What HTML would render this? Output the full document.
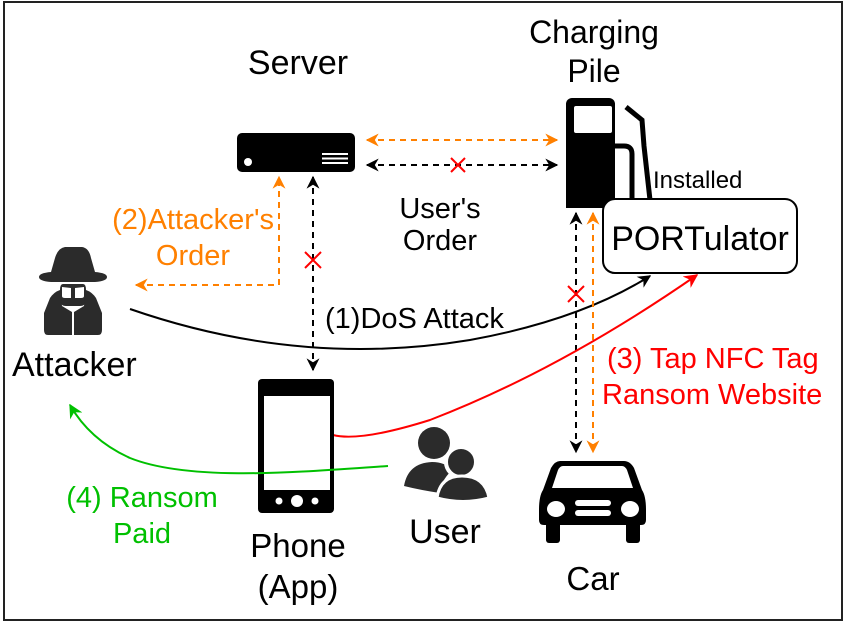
<!DOCTYPE html>
<html><head><meta charset="utf-8"><style>
html,body{margin:0;padding:0;background:#fff}
svg{display:block}
text{font-family:"Liberation Sans",Arial,sans-serif}
</style></head><body>
<svg width="846" height="627" viewBox="0 0 846 627" xmlns="http://www.w3.org/2000/svg">
<defs>
<marker id="ab" viewBox="0 0 10 10" refX="9" refY="5" markerWidth="13" markerHeight="13" orient="auto-start-reverse" markerUnits="userSpaceOnUse"><path d="M0,0 L10,5 L0,10 L3,5z" fill="#000"/></marker>
<marker id="ao" viewBox="0 0 10 10" refX="9" refY="5" markerWidth="13" markerHeight="13" orient="auto-start-reverse" markerUnits="userSpaceOnUse"><path d="M0,0 L10,5 L0,10 L3,5z" fill="#ff8000"/></marker>
<marker id="ar" viewBox="0 0 10 10" refX="9" refY="5" markerWidth="14" markerHeight="14" orient="auto" markerUnits="userSpaceOnUse"><path d="M0,0 L10,5 L0,10 L3,5z" fill="#ff0000"/></marker>
<marker id="ag" viewBox="0 0 10 10" refX="9" refY="5" markerWidth="14" markerHeight="14" orient="auto" markerUnits="userSpaceOnUse"><path d="M0,0 L10,5 L0,10 L3,5z" fill="#00c000"/></marker>
</defs>
<rect x="4" y="2" width="838" height="618" fill="#fff" stroke="#222" stroke-width="2"/>

<text x="298" y="74" font-size="34" text-anchor="middle">Server</text>
<rect x="237" y="133" width="118" height="39" rx="5" fill="#000"/>
<circle cx="248" cy="162" r="4" fill="#fff"/>
<rect x="322" y="153" width="26" height="2" fill="#fff"/>
<rect x="322" y="157.5" width="26" height="2" fill="#fff"/>
<rect x="322" y="162" width="26" height="2" fill="#fff"/>

<text x="594" y="43" font-size="32" text-anchor="middle">Charging</text>
<text x="594" y="82" font-size="32" text-anchor="middle">Pile</text>
<rect x="566" y="98" width="49" height="110" rx="6" fill="#000"/>
<rect x="566" y="190" width="49" height="18" fill="#000"/>
<rect x="574" y="106" width="38" height="27" rx="2" fill="#fff"/>
<path d="M614,146 L624,146 Q632,146 632,154 L632,200" fill="none" stroke="#000" stroke-width="5"/>
<path d="M626,107 L642,120 L644,146 L650,200" fill="none" stroke="#000" stroke-width="5"/>
<text x="653" y="188" font-size="24">Installed</text>
<rect x="603" y="199" width="194" height="74" rx="12" fill="#fff" stroke="#000" stroke-width="2"/>
<text x="700" y="250" font-size="34" text-anchor="middle">PORTulator</text>

<line x1="367" y1="140" x2="557" y2="140" stroke="#ff8000" stroke-width="2" stroke-dasharray="6,5" marker-start="url(#ao)" marker-end="url(#ao)"/>
<line x1="367" y1="165" x2="557" y2="165" stroke="#000" stroke-width="2" stroke-dasharray="6,5" marker-start="url(#ab)" marker-end="url(#ab)"/>
<path d="M451,158 L465,172 M465,158 L451,172" stroke="#ff0000" stroke-width="2"/>
<text x="440" y="218" font-size="29" text-anchor="middle">User's</text>
<text x="440" y="250" font-size="29" text-anchor="middle">Order</text>

<path d="M136,285 L279,285 L279,177" fill="none" stroke="#ff8000" stroke-width="2" stroke-dasharray="6,5" marker-start="url(#ao)" marker-end="url(#ao)"/>
<text x="274" y="229" font-size="29" fill="#ff8000" text-anchor="end">(2)Attacker's</text>
<text x="193" y="265" font-size="29" fill="#ff8000" text-anchor="middle">Order</text>

<line x1="313" y1="177" x2="313" y2="370" stroke="#000" stroke-width="2" stroke-dasharray="6,5" marker-start="url(#ab)" marker-end="url(#ab)"/>
<path d="M305,252 L321,268 M321,252 L305,268" stroke="#ff0000" stroke-width="2"/>
<text x="325" y="328" font-size="29">(1)DoS Attack</text>

<g fill="#2b2b2b">
<path d="M55,258 Q58,248 65,247 L82,247 Q89,248 91,258 L95,272 Q107,273 107,277 Q107,281 95,282 L51,282 Q39,281 39,277 Q39,273 51,272z"/>
<path d="M63,284 L83,284 Q86,284 86,290 L86,300 Q86,306 80,306 L66,306 Q60,306 60,300 L60,290 Q60,284 63,284z M62,287 L62,296 Q62,298 65,298 L71,298 L71,288z M75,288 L75,298 L81,298 Q84,298 84,296 L84,287z"/>
<path d="M50,298 Q54,292 60,290 L62,306 L72,312 L72,335 L48,335 Q44,335 44,330 L44,313z"/>
<path d="M96,298 Q92,292 86,290 L84,306 L74,312 L74,335 L98,335 Q102,335 102,330 L102,313z"/>
</g>
<text x="12" y="376" font-size="34">Attacker</text>

<path d="M130,309 Q300,368 470,340 Q580,320 650,276" fill="none" stroke="#000" stroke-width="2" marker-end="url(#ab)"/>

<line x1="576" y1="213" x2="576" y2="452" stroke="#000" stroke-width="2" stroke-dasharray="6,5" marker-start="url(#ab)" marker-end="url(#ab)"/>
<line x1="593" y1="213" x2="593" y2="452" stroke="#ff8000" stroke-width="2" stroke-dasharray="6,5" marker-start="url(#ao)" marker-end="url(#ao)"/>
<path d="M568,286 L584,302 M584,286 L568,302" stroke="#ff0000" stroke-width="2"/>
<text x="607" y="368" font-size="29" fill="#ff0000">(3) Tap NFC Tag</text>
<text x="602" y="404" font-size="29" fill="#ff0000">Ransom Website</text>

<path d="M333,435 Q360,442 430,420 Q560,370 697,275" fill="none" stroke="#ff0000" stroke-width="2" marker-end="url(#ar)"/>

<rect x="258" y="379" width="76" height="134" rx="4" fill="#000"/>
<rect x="264" y="396" width="66" height="94" fill="#fff"/>
<circle cx="279" cy="501" r="3.5" fill="#fff"/>
<circle cx="297" cy="501" r="6" fill="#fff"/>
<circle cx="315" cy="501" r="3.5" fill="#fff"/>
<text x="298" y="557" font-size="33" text-anchor="middle">Phone</text>
<text x="298" y="598" font-size="33" text-anchor="middle">(App)</text>

<path d="M388,466 C300,472 190,482 130,458 Q90,440 70,405" fill="none" stroke="#00c000" stroke-width="2" marker-end="url(#ag)"/>
<text x="142" y="507" font-size="29" fill="#00c000" text-anchor="middle">(4) Ransom</text>
<text x="142" y="543" font-size="29" fill="#00c000" text-anchor="middle">Paid</text>

<g fill="#2b2b2b">
<circle cx="434" cy="443" r="16"/>
<path d="M404,486 Q408,463 432,462 Q445,462 452,470 Q440,482 440,493 Q420,490 404,486z"/>
<circle cx="461" cy="462" r="15" stroke="#fff" stroke-width="4"/>
<path d="M437,498 Q440,476 462,476 Q485,476 489,498 Q463,505 437,498z" stroke="#fff" stroke-width="3"/>
</g>
<text x="445" y="543" font-size="34" text-anchor="middle">User</text>

<g>
<path d="M560,461 L624,461 Q630,461 634,468 L642,490 Q646,496 646,510 L646,520 Q646,525 641,525 L544,525 Q539,525 539,520 L539,510 Q539,496 543,490 L551,468 Q555,461 560,461z" fill="#000"/>
<path d="M563,466 L622,466 Q625,466 627,470 L633,488 L552,488 L558,470 Q560,466 563,466z" fill="#fff"/>
<ellipse cx="556" cy="509" rx="9" ry="8" fill="#fff"/>
<ellipse cx="630" cy="509" rx="9" ry="8" fill="#fff"/>
<rect x="575" y="500" width="36" height="6" rx="3" fill="#fff"/>
<rect x="575" y="510" width="36" height="6" rx="3" fill="#fff"/>
<rect x="546" y="522" width="14" height="21" rx="3" fill="#000"/>
<rect x="626" y="522" width="14" height="21" rx="3" fill="#000"/>
</g>
<text x="593" y="590" font-size="33" text-anchor="middle">Car</text>
</svg>
</body></html>
